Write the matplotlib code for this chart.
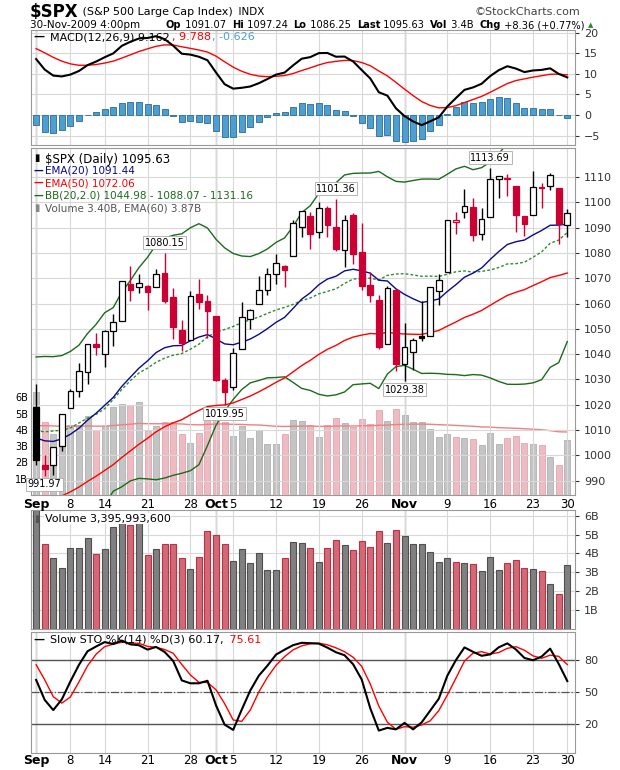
import numpy as np
import matplotlib
matplotlib.use("Agg")
import matplotlib.pyplot as plt

# ---------------- data ----------------
dates_lbl = ["Sep", "8", "14", "21", "28", "Oct", "5", "12", "19", "26", "Nov", "9", "16", "23", "30"]
lbl_idx = [0, 4, 8, 13, 18, 21, 23, 28, 33, 38, 43, 48, 53, 58, 62]
month_idx = [0, 21, 43]

opens = [1019.0, 996.1, 996.1, 1003.8, 1018.7, 1025.4, 1033.0, 1043.9, 1040.2, 1049.0, 1053.0, 1067.9, 1066.6, 1067.1, 1066.4,
         1072.1, 1062.6, 1049.5, 1045.4, 1063.7, 1061.0, 1054.9, 1029.7, 1026.9, 1042.0, 1053.7, 1060.0, 1065.3, 1071.6, 1075.0,
         1078.7, 1090.4, 1094.7, 1088.2, 1097.9, 1090.4, 1081.0, 1095.0, 1080.4, 1067.5, 1061.5, 1043.9, 1065.4, 1036.2, 1040.9,
         1047.3, 1047.3, 1064.9, 1072.3, 1092.2, 1096.0, 1098.3, 1087.6, 1094.1, 1109.2, 1109.4, 1106.4, 1094.7, 1094.9, 1105.8,
         1106.5, 1105.5, 1091.07]
highs = [1028.0, 1000.3, 1003.4, 1016.5, 1026.1, 1036.3, 1044.1, 1048.2, 1049.7, 1056.0, 1068.8, 1074.8, 1071.5, 1067.3, 1073.8,
         1080.15, 1066.3, 1053.5, 1065.1, 1069.6, 1063.4, 1054.9, 1030.6, 1042.6, 1060.6, 1058.0, 1070.7, 1073.9, 1079.5, 1075.3,
         1093.2, 1096.6, 1096.0, 1100.2, 1098.4, 1101.36, 1095.2, 1095.8, 1091.8, 1072.5, 1063.3, 1066.8, 1065.4, 1052.2, 1046.4,
         1061.0, 1066.7, 1071.5, 1093.2, 1096.1, 1105.4, 1101.8, 1097.8, 1113.69, 1110.3, 1111.1, 1106.4, 1094.7, 1112.4, 1107.6,
         1111.8, 1105.5, 1097.24]
lows = [996.3, 991.97, 992.3, 1001.7, 1018.7, 1023.0, 1028.0, 1039.8, 1035.0, 1043.4, 1052.9, 1061.2, 1064.3, 1057.5, 1066.4,
        1060.4, 1045.8, 1041.2, 1045.4, 1057.8, 1046.5, 1029.4, 1019.95, 1025.9, 1042.0, 1050.1, 1060.0, 1063.4, 1067.9, 1066.7,
        1078.7, 1086.4, 1081.7, 1086.1, 1086.2, 1080.8, 1074.3, 1075.5, 1065.2, 1060.6, 1042.2, 1043.9, 1033.4, 1029.38, 1033.7,
        1045.2, 1047.3, 1059.3, 1072.3, 1087.4, 1093.8, 1084.7, 1085.3, 1094.1, 1101.9, 1102.7, 1088.4, 1086.8, 1094.9, 1097.6,
        1104.9, 1083.7, 1086.25]
closes = [998.04, 994.75, 1003.24, 1016.40, 1025.39, 1033.37, 1044.14, 1042.73, 1049.34, 1052.63, 1068.76, 1065.49, 1068.30,
          1064.66, 1071.66, 1060.87, 1050.78, 1044.38, 1062.98, 1060.61, 1057.08, 1029.85, 1025.21, 1040.46, 1054.72, 1057.58,
          1065.48, 1071.49, 1076.19, 1073.19, 1092.02, 1096.56, 1087.68, 1097.91, 1091.06, 1081.40, 1092.91, 1079.60, 1066.95,
          1063.41, 1042.63, 1066.11, 1036.19, 1042.88, 1045.41, 1046.50, 1066.63, 1069.30, 1093.08, 1093.01, 1098.51, 1087.24,
          1093.48, 1109.30, 1110.32, 1109.80, 1094.90, 1091.38, 1106.24, 1105.65, 1110.63, 1091.49, 1095.63]
volumes = [6.3, 4.5, 3.77, 3.23, 4.3, 4.3, 4.83, 3.97, 4.24, 5.4, 5.6, 5.5, 5.7, 3.9, 4.24, 4.5, 4.5, 3.77, 3.2, 3.82, 5.2,
           5.0, 4.5, 3.6, 4.24, 3.5, 4.02, 3.15, 3.1, 3.77, 4.6, 4.55, 4.3, 3.57, 4.3, 4.72, 4.44, 4.17, 4.66, 4.34, 5.21, 4.55,
           5.26, 4.9, 4.49, 4.49, 4.06, 3.53, 3.74, 3.53, 3.48, 3.42, 3.05, 3.8, 3.1, 3.48, 3.64, 3.21, 3.16, 3.05, 2.36, 1.84, 3.40]

# warm-up history (Jun-Aug 2009) for the indicators
warm_closes = [942.87, 944.74, 931.76, 942.46, 940.09, 939.14, 942.43, 939.15, 944.89, 946.21, 923.72, 911.97, 910.71,
               918.37, 921.23, 893.04, 895.10, 900.94, 920.26, 918.90, 927.23, 919.32,
               923.33, 896.42, 898.72, 881.03, 879.56, 882.68, 879.13, 901.05, 905.84, 932.68, 940.74, 940.38, 951.13,
               954.58, 954.07, 976.29, 979.26, 982.18, 979.62, 975.15, 986.75, 987.48,
               1002.63, 1005.65, 1002.72, 997.08, 1010.48, 1007.10, 994.35, 1005.81, 1012.73, 1004.09, 979.73, 989.67,
               996.46, 1007.37, 1026.13, 1025.57, 1028.00, 1028.12, 1030.98, 1028.93, 1020.62]
aug_highs = [1003.6, 1005.7, 1006.6, 1008.9, 1018.0, 1010.1, 1005.8, 1012.6, 1013.1, 1012.7, 998.2, 991.2, 999.6, 1008.9,
             1027.6, 1035.8, 1037.8, 1032.5, 1033.3, 1039.5, 1028.5]
aug_lows = [990.2, 998.2, 994.3, 992.4, 1001.0, 1001.0, 992.4, 993.4, 1003.3, 994.6, 978.5, 980.6, 978.5, 996.4, 1009.0,
            1022.9, 1026.2, 1021.2, 1016.2, 1023.1, 1016.0]
vol_ema_seed = 4.25

# ---------------- indicators ----------------
n = len(closes)
nw = len(warm_closes)
allc = np.array(warm_closes + closes)


def ema(x, p, seed=None):
    a = 2.0 / (p + 1)
    out = np.empty(len(x))
    out[0] = x[0] if seed is None else seed
    for i in range(1, len(x)):
        out[i] = out[i - 1] + a * (x[i] - out[i - 1])
    return out


ema20 = ema(allc, 20)[nw:]
ema50 = ema(allc, 50)[nw:]
sma20 = np.array([allc[i - 19:i + 1].mean() for i in range(nw, nw + n)])
sd20 = np.array([allc[i - 19:i + 1].std() for i in range(nw, nw + n)])
bb_up, bb_lo = sma20 + 2 * sd20, sma20 - 2 * sd20
macd_all = ema(allc, 12) - ema(allc, 26)
sig_all = ema(macd_all, 9)
macd = macd_all[nw:]
sig = sig_all[nw:]
hist = macd - sig

H = np.array(aug_highs + highs)
L = np.array(aug_lows + lows)
C = np.array(warm_closes[-21:] + closes)
fk = np.array([(C[i] - L[i - 13:i + 1].min()) / (H[i - 13:i + 1].max() - L[i - 13:i + 1].min()) * 100
               for i in range(13, len(C))])
sk = np.array([fk[i - 2:i + 1].mean() for i in range(2, len(fk))])
sd = np.array([sk[i - 2:i + 1].mean() for i in range(2, len(sk))])
sk = sk[-n:]
sd = sd[-n:]

vol = np.array(volumes)
vol_ema = ema(vol, 60, seed=vol_ema_seed)
x = np.arange(n)
up_day = np.array([True] + [closes[i] >= closes[i - 1] for i in range(1, n)])

RED = "#cc0033"
BLK = "#000000"

# ---------------- figure ----------------
fig = plt.figure(figsize=(6.2, 7.7), dpi=100)
fig.patch.set_facecolor("white")
W, Hh = 620.0, 770.0
r = fig.canvas.get_renderer()


def axrect(top, bot, left=31, right=575):
    return [left / W, 1 - bot / Hh, (right - left) / W, (bot - top) / Hh]


xlim = (-0.6, 62.9)
grid_c = "#d8d8d8"


def style(ax):
    ax.set_xlim(*xlim)
    ax.set_xticks(lbl_idx)
    ax.set_xticklabels([])
    ax.tick_params(axis="x", length=0)
    ax.grid(True, color=grid_c, lw=0.8)
    ax.set_axisbelow(True)
    for i in month_idx:
        ax.axvline(i, color="#aaaaaa", lw=1.0, zorder=0.5)
    ax.yaxis.tick_right()
    ax.tick_params(axis="y", labelsize=8, length=3, direction="out", colors="#333333")
    for s in ax.spines.values():
        s.set_color("#999999")


def xlabels(ax):
    ax.set_xticklabels([])
    for i, t in zip(lbl_idx, dates_lbl):
        bold = t in ("Sep", "Oct", "Nov")
        ax.text(i, -0.01, t, transform=ax.get_xaxis_transform(), ha="center", va="top",
                fontsize=9 if bold else 8.5, fontweight="bold" if bold else "normal")


def chain(x0, y0, parts, gap=0.0):
    """place consecutive text parts left to right (pixel x start)."""
    xp = x0
    for t, col, fs, fw in parts:
        tt = fig.text(xp / W, 1 - y0 / Hh, t, color=col, fontsize=fs, fontweight=fw, va="center")
        xp += tt.get_window_extent(renderer=r).width + gap
    return xp

# ---- MACD ----
ax1 = fig.add_axes(axrect(30, 145))
style(ax1)
ax1.bar(x, hist, width=0.7, color="#4d9fd2", edgecolor="#2a6a9a", lw=0.6, zorder=2)
ax1.plot(x, sig, color="red", lw=1.0, zorder=3)
ax1.plot(x, macd, color="black", lw=1.5, zorder=4)
ax1.set_ylim(-7.3, 20.7)
ax1.set_yticks([-5, 0, 5, 10, 15, 20])
chain(34, 37, [("\u2014 ", "black", 8, "bold"), ("MACD(12,26,9) %.3f" % macd[-1], "black", 8, "normal"),
               (", %.3f" % sig[-1], "red", 8, "normal"), (", %.3f" % hist[-1], "#4d9fd2", 8, "normal")], gap=1.5)

# ---- Main price ----
ax2 = fig.add_axes(axrect(148, 495))
style(ax2)
ax2.set_ylim(984.3, 1121.5)
ax2.set_yticks(np.arange(990, 1111, 10))
axv = ax2.twinx()
ax2.yaxis.tick_right()
ax2.yaxis.set_label_position("right")
axv.set_ylim(0, 21.3)
axv.set_xlim(*xlim)
axv.bar(x, vol, width=0.7, color=np.where(up_day, "#c4c4c4", "#ecbcc2"),
        edgecolor=np.where(up_day, "#b0b0b0", "#e4a4ae"), lw=0.6, zorder=1)
axv.plot(x, vol_ema, color="#f08080", lw=1.0, zorder=2)
axv.yaxis.tick_left()
axv.set_yticks([1, 2, 3, 4, 5, 6])
axv.set_yticklabels(["1B", "2B", "3B", "4B", "5B", "6B"])
axv.tick_params(axis="y", labelsize=7, length=0, pad=2)
for s in axv.spines.values():
    s.set_visible(False)
axv.set_zorder(0)
ax2.set_zorder(1)
ax2.patch.set_visible(False)
ax2.plot(x, bb_up, color="#1b6b1b", lw=1.0)
ax2.plot(x, bb_lo, color="#1b6b1b", lw=1.0)
ax2.plot(x, sma20, color="#2e8b2e", lw=1.0, ls=(0, (2, 1.5)))
ax2.plot(x, ema20, color="#0a0a8a", lw=1.0)
ax2.plot(x, ema50, color="red", lw=1.0)
for i in range(n):
    o, h, l, c = opens[i], highs[i], lows[i], closes[i]
    col = BLK if up_day[i] else RED
    ax2.vlines(i, l, h, color=col, lw=1.0, zorder=4)
    lo_b, hi_b = min(o, c), max(o, c)
    face = "white" if c >= o else col
    ax2.add_patch(plt.Rectangle((i - 0.33, lo_b), 0.66, max(hi_b - lo_b, 0.3), facecolor=face,
                                edgecolor=col, lw=0.9, zorder=5))
ann_hi = [15, 35, 53]
ann_lo = [1, 22, 43]
bb = dict(boxstyle="square,pad=0.15", fc="white", ec="#aaaaaa", lw=0.6)
for i in ann_hi:
    ax2.text(i, highs[i] + 2.0, "%.2f" % highs[i], ha="center", va="bottom", fontsize=7, bbox=bb, zorder=6)
for i in ann_lo:
    ax2.text(i, lows[i] - 1.5, "%.2f" % lows[i], ha="center", va="top", fontsize=7, bbox=bb, zorder=6)
leg = [("$SPX (Daily) %.2f" % closes[-1], "black", "black"),
       ("EMA(20) %.2f" % ema20[-1], "#0a0a8a", "#0a0a8a"),
       ("EMA(50) %.2f" % ema50[-1], "red", "red"),
       ("BB(20,2.0) %.2f - %.2f - %.2f" % (bb_lo[-1], sma20[-1], bb_up[-1]), "#1b6b1b", "#1b6b1b"),
       ("Volume %.2fB, EMA(60) %.2fB" % (vol[-1], vol_ema[-1]), "#555555", "#888888")]
for k, (t, c1, c2) in enumerate(leg):
    yy = 0.985 - k * 0.036
    ax2.text(0.005, yy, "\u25ae" if k in (0, 4) else "\u2014", transform=ax2.transAxes, fontsize=7,
             va="top", color=c2, fontweight="bold")
    ax2.text(0.025, yy, t, transform=ax2.transAxes, fontsize=7.5 if k else 8.5, va="top", color=c1, zorder=7)
xlabels(ax2)

# ---- Volume panel ----
ax3 = fig.add_axes(axrect(510, 629))
style(ax3)
ax3.bar(x, vol, width=0.7, color=np.where(up_day, "#808080", "#d06a78"),
        edgecolor=np.where(up_day, "#505050", "#c03040"), lw=0.8, zorder=2)
ax3.set_ylim(0, 6.3)
ax3.set_yticks([1, 2, 3, 4, 5, 6])
ax3.set_yticklabels(["1B", "2B", "3B", "4B", "5B", "6B"])
ax3.text(0.005, 0.97, "\u25ae", transform=ax3.transAxes, fontsize=7, va="top", color="#555555")
ax3.text(0.025, 0.97, "Volume 3,395,993,600", transform=ax3.transAxes, fontsize=8, va="top",
         bbox=dict(fc="white", ec="none", pad=0.5), zorder=5)

# ---- Slow STO ----
ax4 = fig.add_axes(axrect(632, 753))
style(ax4)
ax4.set_ylim(-7, 106)
ax4.set_yticks([20, 50, 80])
ax4.axhline(80, color="#555555", lw=1.0)
ax4.axhline(20, color="#555555", lw=1.0)
ax4.axhline(50, color="#555555", lw=0.9, ls="-.")
ax4.plot(x, sd, color="red", lw=1.0, zorder=3)
ax4.plot(x, sk, color="black", lw=1.5, zorder=4)
chain(34, 640, [("\u2014 ", "black", 8, "bold"), ("Slow STO %%K(14) %%D(3) %.2f," % sk[-1], "black", 8, "normal"),
                (" %.2f" % sd[-1], "red", 8, "normal")], gap=1.5)
xlabels(ax4)

# ---- header ----
chain(30, 12, [("$SPX", "black", 12, "bold"), (" (S&P 500 Large Cap Index)", "black", 8, "normal"),
               ("  INDX", "black", 7.5, "normal")])
fig.text(580 / W, 1 - 12 / Hh, "\u00a9StockCharts.com", fontsize=8, va="center", ha="right", color="#444444")
fig.text(30 / W, 1 - 25 / Hh, "30-Nov-2009 4:00pm", fontsize=7.5, va="center")
hdr = [("Op", True), (" 1091.07  ", False), ("Hi", True), (" 1097.24  ", False), ("Lo", True),
       (" 1086.25  ", False), ("Last", True), (" 1095.63  ", False), ("Vol", True), (" 3.4B  ", False),
       ("Chg", True), (" +8.36 (+0.77%)", False)]
xp = chain(166, 25, [(t, "black", 7.1, "bold" if b else "normal") for t, b in hdr])
fig.text((xp + 3) / W, 1 - 25 / Hh, "\u25b2", fontsize=5, va="center", color="#2a8a2a")

fig.savefig("out.png", dpi=100, facecolor="white")
